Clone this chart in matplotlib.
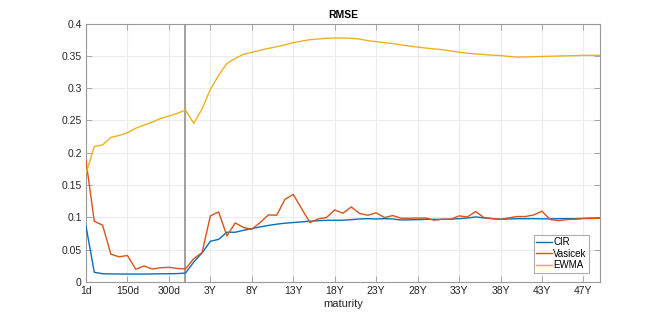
import matplotlib
matplotlib.use("Agg")
import matplotlib.pyplot as plt
import numpy as np

plt.rcParams['font.family'] = ['Liberation Sans', 'DejaVu Sans']

cir = [0.0863, 0.015, 0.0128, 0.0125, 0.0124, 0.0123, 0.0123, 0.0123, 0.0125, 0.0127,
       0.0128, 0.013, 0.0138, 0.031, 0.045, 0.063, 0.066, 0.077, 0.077, 0.080,
       0.0827, 0.0852, 0.0875, 0.0895, 0.091, 0.092, 0.093, 0.094, 0.0948, 0.0955,
       0.0955, 0.0956, 0.0965, 0.0975, 0.098, 0.0975, 0.098, 0.0975, 0.096, 0.0962,
       0.0965, 0.097, 0.097, 0.097, 0.0972, 0.098, 0.099, 0.1007, 0.0992, 0.098,
       0.0971, 0.0975, 0.098, 0.098, 0.098, 0.0977, 0.0977, 0.098, 0.098, 0.098,
       0.0985, 0.099, 0.099]

vasicek = [0.1875, 0.094, 0.088, 0.043, 0.039, 0.041, 0.0197, 0.0248, 0.0201, 0.022,
           0.0227, 0.021, 0.0202, 0.0362, 0.0455, 0.1023, 0.1085, 0.0713, 0.0914, 0.0843,
           0.0816, 0.092, 0.1038, 0.1033, 0.128, 0.1354, 0.1137, 0.092, 0.0976, 0.0997,
           0.1115, 0.1064, 0.1162, 0.106, 0.1033, 0.107, 0.0997, 0.1028, 0.0987, 0.0987,
           0.099, 0.099, 0.0956, 0.0971, 0.0971, 0.1023, 0.1007, 0.109, 0.0997, 0.0982,
           0.0971, 0.0992, 0.1013, 0.1013, 0.1038, 0.1095, 0.0966, 0.095, 0.0966, 0.0971,
           0.0982, 0.0982, 0.0987]

ewma = [0.168, 0.2097, 0.2122, 0.2237, 0.2268, 0.2308, 0.238, 0.2428, 0.2474, 0.2531,
        0.2567, 0.2609, 0.266, 0.2454, 0.268, 0.298, 0.3198, 0.3383, 0.346, 0.3523,
        0.3554, 0.3585, 0.3615, 0.364, 0.367, 0.3703, 0.3727, 0.3749, 0.376, 0.3771,
        0.3775, 0.3775, 0.3771, 0.376, 0.3734, 0.372, 0.3703, 0.369, 0.367, 0.3651,
        0.3635, 0.362, 0.3607, 0.3594, 0.3575, 0.3555, 0.354, 0.353, 0.352, 0.351,
        0.3505, 0.349, 0.348, 0.3483, 0.3487, 0.349, 0.3493, 0.3497, 0.35, 0.3503,
        0.3507, 0.3507, 0.3507]

tick_labels = ['1d', '150d', '300d', '3Y', '8Y', '13Y', '18Y', '23Y', '28Y', '33Y',
               '38Y', '43Y', '47Y']
tick_pos = [1, 6, 11, 16, 21, 26, 31, 36, 41, 46, 51, 56, 61]
split_index = 13
y_ticks = [0, 0.05, 0.1, 0.15, 0.2, 0.25, 0.3, 0.35, 0.4]
y_labels = ['0', '0.05', '0.1', '0.15', '0.2', '0.25', '0.3', '0.35', '0.4']

x = np.arange(1, len(cir) + 1)

fig = plt.figure(figsize=(6.64, 3.17), dpi=100)
ax = fig.add_axes([86/664, 1-282/317, (600-86)/664, (282-23.5)/317])

ax.grid(True, color='#ececec', linewidth=0.8, zorder=0)
ax.set_axisbelow(True)
ax.axvline(split_index, color='#a0a0a0', linewidth=1.4, zorder=1)

ax.plot(x, cir, color='#0072BD', linewidth=1.0, label='CIR', zorder=3)
ax.plot(x, vasicek, color='#D95319', linewidth=1.0, label='Vasicek', zorder=3)
ax.plot(x, ewma, color='#EDB120', linewidth=1.0, label='EWMA', zorder=3)

ax.set_xlim(1, len(cir))
ax.set_ylim(0, 0.4)
ax.set_xticks(tick_pos)
ax.set_xticklabels(tick_labels)
ax.set_yticks(y_ticks)
ax.set_yticklabels(y_labels)
ax.tick_params(direction='in', length=4, width=0.6, colors='#9a9a9a', labelcolor='#262626',
               labelsize=7.5, top=True, right=True, pad=3)
for s in ax.spines.values():
    s.set_color('#9a9a9a')
    s.set_linewidth(0.8)

ax.set_title('RMSE', fontsize=7.5, fontweight='bold', pad=4)
ax.set_xlabel('maturity', fontsize=8, color='#262626', labelpad=2)

leg = ax.legend(loc='lower right', bbox_to_anchor=(0.979, 0.036), fontsize=7,
                handlelength=1.6, handletextpad=0.15, borderpad=0.25, labelspacing=0.15,
                frameon=True, fancybox=False, borderaxespad=0)
leg.get_frame().set_edgecolor('#9a9a9a')
leg.get_frame().set_linewidth(0.8)

fig.savefig('out.png', dpi=100)
